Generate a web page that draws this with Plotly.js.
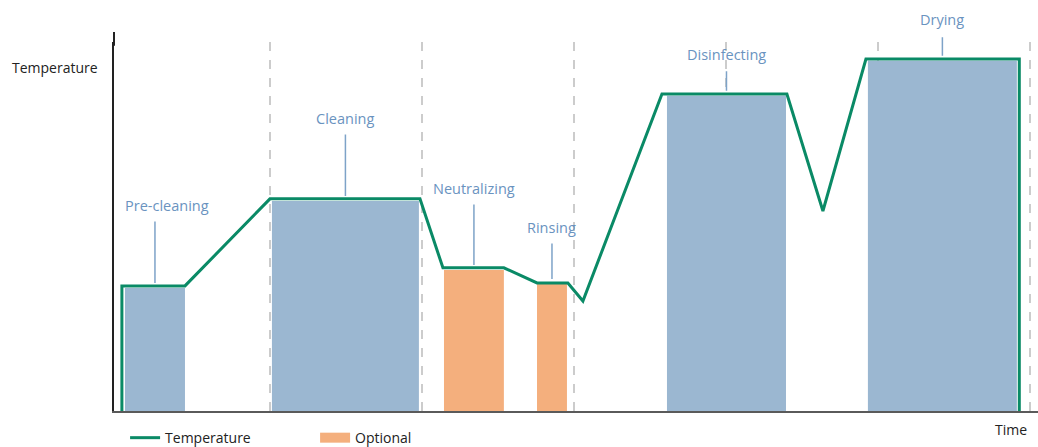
<!DOCTYPE html>
<html>
<head>
<meta charset="utf-8">
<script src="https://cdn.plot.ly/plotly-3.0.1.min.js"></script>
<style>html,body{margin:0;padding:0;background:#fff;}#chart{width:1038px;height:447px;}</style>
</head>
<body>
<div id="chart"></div>
<script>
// ---- data ----
const phaseNames = ['Pre-cleaning', 'Cleaning', 'Neutralizing', 'Rinsing', 'Disinfecting', 'Drying'];
const phaseStart = [0.46, 10.13, 21.45, 27.57, 36.12, 49.34];
const phaseEnd = [4.41, 19.80, 25.39, 29.54, 43.95, 59.14];
const phaseTemp = [33.3, 56.9, 38.2, 34.4, 85.4, 94.9];
const phaseOptional = [false, false, true, true, false, false];

const tempTime = [0.26, 0.26, 4.41, 10.0, 19.87, 21.38, 25.39, 27.57, 29.6, 30.59, 35.79, 44.01, 46.38, 49.21, 59.3, 59.3];
const tempValue = [0, 33.9, 33.9, 57.5, 57.5, 38.8, 38.8, 34.7, 34.7, 29.8, 85.9, 85.9, 54.2, 95.4, 95.4, 0];

const gridTimes = [10, 20, 30, 40, 50, 60];

// ---- styling (pixel offsets of label stems and texts) ----
const stemLength = [68, 68, 67, 42, 26, 25];
const labelRise = [83, 83, 82, 57, 41, 41];
const labelShiftX = [12, 0, 0, 0, 0, 0];
const FONT = 'Open Sans, sans-serif';
const BLUE = '#9bb7d1', ORANGE = '#f4af7d', GREEN = '#0a8a66';
const LABEL = '#6a93bf', STEM = '#7ea3c8';

function subset(flag) {
  const x = [], w = [], y = [];
  phaseNames.forEach((n, i) => {
    if (phaseOptional[i] === flag) {
      x.push((phaseStart[i] + phaseEnd[i]) / 2);
      w.push(phaseEnd[i] - phaseStart[i]);
      y.push(phaseTemp[i]);
    }
  });
  return {x, w, y};
}
const std = subset(false), opt = subset(true);

const traces = [
  {type: 'bar', x: std.x, y: std.y, width: std.w, base: 0, marker: {color: BLUE}, showlegend: false, hoverinfo: 'skip'},
  {type: 'bar', x: opt.x, y: opt.y, width: opt.w, base: 0, marker: {color: ORANGE}, showlegend: false, hoverinfo: 'skip'},
  {type: 'scatter', mode: 'lines', name: 'Temperature', x: tempTime, y: tempValue, line: {color: GREEN, width: 3}, cliponaxis: false},
  {type: 'scatter', mode: 'lines', name: 'Optional', x: [null], y: [null], line: {color: ORANGE, width: 11}}
];

const annotations = [];
phaseNames.forEach((n, i) => {
  const cx = (phaseStart[i] + phaseEnd[i]) / 2;
  annotations.push({x: cx, y: phaseTemp[i], xref: 'x', yref: 'y', text: '',
    showarrow: true, arrowhead: 0, arrowwidth: 1.5, arrowcolor: STEM,
    ax: 0, ay: -stemLength[i], standoff: 5});
  annotations.push({x: cx, y: phaseTemp[i], xref: 'x', yref: 'y', text: n, showarrow: false,
    xanchor: 'center', yanchor: 'middle', xshift: labelShiftX[i], yshift: labelRise[i],
    font: {family: FONT, size: 14.5, color: LABEL}});
});
annotations.push({xref: 'paper', yref: 'paper', x: -0.1126, y: 0.932, xanchor: 'left', yanchor: 'middle',
  text: 'Temperature', showarrow: false, font: {family: FONT, size: 14, color: '#222'}});
annotations.push({xref: 'paper', yref: 'paper', x: 0.990, y: -0.0488, xanchor: 'right', yanchor: 'middle',
  text: 'Time', showarrow: false, font: {family: FONT, size: 14, color: '#222'}});

const layout = {
  width: 1038, height: 447,
  margin: {l: 114, r: 0, t: 42, b: 36, pad: 0, autoexpand: false},
  paper_bgcolor: '#fff', plot_bgcolor: '#fff',
  barmode: 'overlay',
  font: {family: FONT, size: 14, color: '#222'},
  xaxis: {range: [-0.26, 60.53], tickvals: gridTimes, showticklabels: false, ticks: '',
    showgrid: true, gridcolor: '#cccccc', gridwidth: 1.5, griddash: 'dash',
    zeroline: false, showline: true, linecolor: '#5a5a5a', linewidth: 2, fixedrange: true},
  yaxis: {range: [0, 100], showgrid: false, showticklabels: false, ticks: '', zeroline: false,
    showline: true, linecolor: '#222', linewidth: 2, fixedrange: true},
  shapes: [{type: 'line', xref: 'paper', yref: 'paper', x0: 0, x1: 0, y0: 0.99, y1: 1.027,
    line: {color: '#222', width: 2}}],
  showlegend: true,
  legend: {orientation: 'h', x: 0.012, xanchor: 'left', y: -0.03, yanchor: 'top',
    font: {family: FONT, size: 14, color: '#222'}, entrywidth: 145, bgcolor: 'rgba(0,0,0,0)'},
  annotations: annotations
};

Plotly.newPlot('chart', traces, layout, {displayModeBar: false, staticPlot: true});
</script>
</body>
</html>
